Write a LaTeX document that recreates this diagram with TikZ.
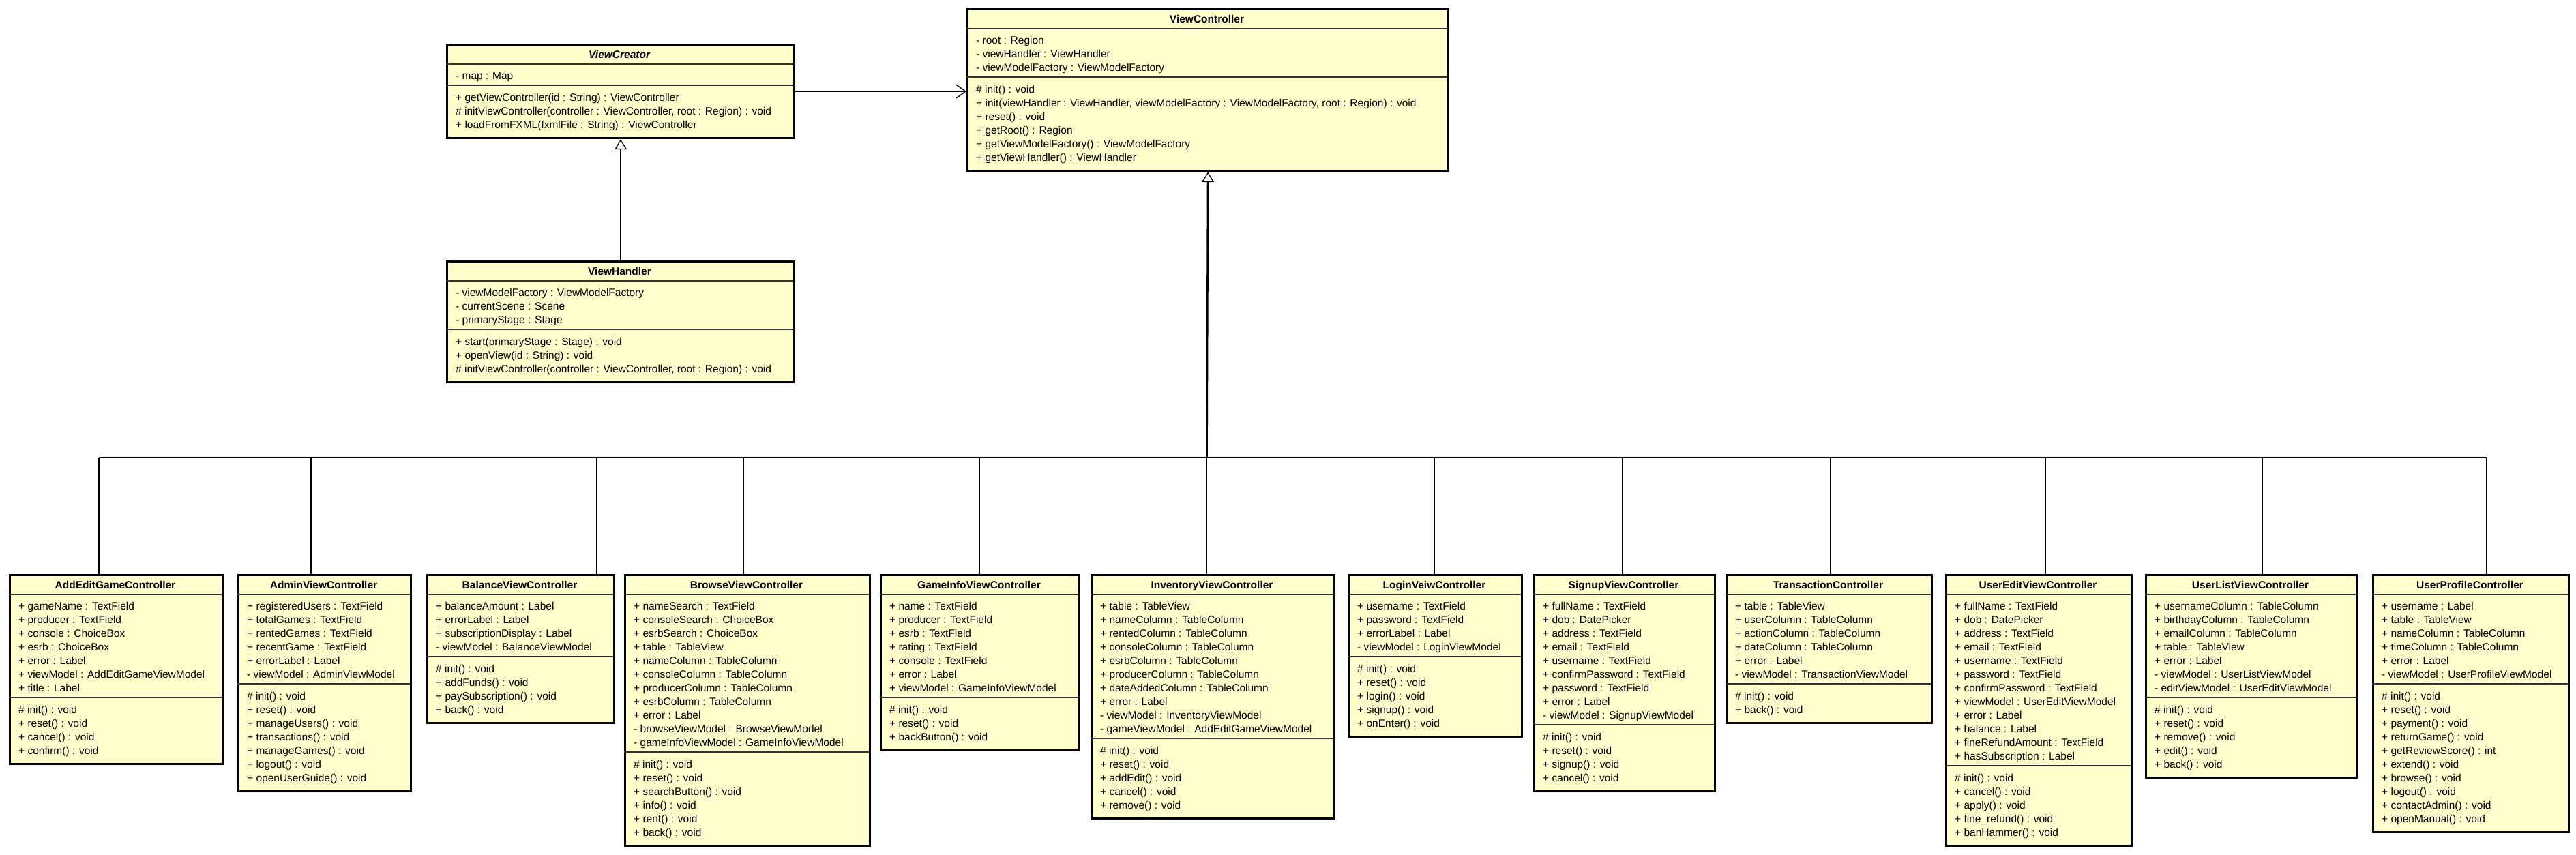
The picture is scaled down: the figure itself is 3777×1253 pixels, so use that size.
\documentclass[tikz,border=0pt]{standalone}
\usepackage{fontspec}
\setmainfont{Liberation Sans}
\usetikzlibrary{arrows.meta}
\definecolor{umlfill}{RGB}{255,255,206}
\tikzset{
  classbox/.style={draw=black, line width=3.2pt, fill=umlfill, rectangle, inner sep=0pt},
  sepline/.style={draw=black!80, line width=1.3pt},
  titletext/.style={font=\fontsize{15.5}{20}\selectfont\bfseries, inner sep=0pt},
  membertext/.style={font=\fontsize{15.5}{20}\selectfont, align=left, inner sep=0pt},
  conn/.style={draw=black, line width=1.3pt},
  gen/.style={conn, -{Triangle[open, length=15pt, width=18pt, line width=1.3pt]}},
  assoc/.style={conn, -{Straight Barb[length=14pt, width=20pt, line width=1.3pt]}},
}
% #1 name, #2 left x, #3 right x, #4 top y, #5 title, #6 n attrs, #7 attrs, #8 n ops, #9 ops
\newcommand{\umlcls}[9]{%
  \pgfmathsetmacro\clsA{#4+30}%
  \pgfmathsetmacro\clsB{#4+30+20*#6+11}%
  \pgfmathsetmacro\clsBot{\clsB+20*#8+16}%
  \pgfmathsetmacro\clsW{#3-#2}%
  \pgfmathsetmacro\clsH{\clsBot-#4}%
  \pgfmathsetmacro\clsX{(#2+#3)/2}%
  \node[classbox, minimum width=\clsW pt, minimum height=\clsH pt, anchor=north west] (#1) at (#2,#4) {};
  \draw[sepline] (#2,\clsA) -- (#3,\clsA);
  \draw[sepline] (#2,\clsB) -- (#3,\clsB);
  \node[titletext, anchor=base] (#1-title) at (\clsX,#4+21.5) {#5};
  \node[membertext, anchor=north west] (#1-attrs) at (#2+14,\clsA+8.5) {\strut #7};
  \node[membertext, anchor=north west] (#1-ops) at (#2+14,\clsB+9.5) {\strut #9};
}
\begin{document}
\begin{tikzpicture}[x=1pt,y=-1pt]
\fill[white] (0,0) rectangle (3777,1253);
\useasboundingbox (0,0) rectangle (3777,1253);

\umlcls{ViewCreator}{654}{1163}{64}{\textit{ViewCreator}}{1}{- map : Map}{3}{%
+ getViewController(id : String) : ViewController\\
\# initViewController(controller : ViewController, root : Region) : void\\
+ loadFromFXML(fxmlFile : String) : ViewController}

\umlcls{ViewHandler}{654}{1163}{382}{ViewHandler}{3}{%
- viewModelFactory : ViewModelFactory\\
- currentScene : Scene\\
- primaryStage : Stage}{3}{%
+ start(primaryStage : Stage) : void\\
+ openView(id : String) : void\\
\# initViewController(controller : ViewController, root : Region) : void}

\umlcls{ViewController}{1417}{2122}{12}{ViewController}{3}{%
- root : Region\\
- viewHandler : ViewHandler\\
- viewModelFactory : ViewModelFactory}{6}{%
\# init() : void\\
+ init(viewHandler : ViewHandler, viewModelFactory : ViewModelFactory, root : Region) : void\\
+ reset() : void\\
+ getRoot() : Region\\
+ getViewModelFactory() : ViewModelFactory\\
+ getViewHandler() : ViewHandler}

\umlcls{AddEdit}{13}{325}{842}{AddEditGameController}{7}{%
+ gameName : TextField\\
+ producer : TextField\\
+ console : ChoiceBox\\
+ esrb : ChoiceBox\\
+ error : Label\\
+ viewModel : AddEditGameViewModel\\
+ title : Label}{4}{%
\# init() : void\\
+ reset() : void\\
+ cancel() : void\\
+ confirm() : void}

\umlcls{Admin}{348}{601}{842}{AdminViewController}{6}{%
+ registeredUsers : TextField\\
+ totalGames : TextField\\
+ rentedGames : TextField\\
+ recentGame : TextField\\
+ errorLabel : Label\\
- viewModel : AdminViewModel}{7}{%
\# init() : void\\
+ reset() : void\\
+ manageUsers() : void\\
+ transactions() : void\\
+ manageGames() : void\\
+ logout() : void\\
+ openUserGuide() : void}

\umlcls{Balance}{625}{899}{842}{BalanceViewController}{4}{%
+ balanceAmount : Label\\
+ errorLabel : Label\\
+ subscriptionDisplay : Label\\
- viewModel : BalanceViewModel}{4}{%
\# init() : void\\
+ addFunds() : void\\
+ paySubscription() : void\\
+ back() : void}

\umlcls{Browse}{915}{1274}{842}{BrowseViewController}{11}{%
+ nameSearch : TextField\\
+ consoleSearch : ChoiceBox\\
+ esrbSearch : ChoiceBox\\
+ table : TableView\\
+ nameColumn : TableColumn\\
+ consoleColumn : TableColumn\\
+ producerColumn : TableColumn\\
+ esrbColumn : TableColumn\\
+ error : Label\\
- browseViewModel : BrowseViewModel\\
- gameInfoViewModel : GameInfoViewModel}{6}{%
\# init() : void\\
+ reset() : void\\
+ searchButton() : void\\
+ info() : void\\
+ rent() : void\\
+ back() : void}

\umlcls{GameInfo}{1290}{1581}{842}{GameInfoViewController}{7}{%
+ name : TextField\\
+ producer : TextField\\
+ esrb : TextField\\
+ rating : TextField\\
+ console : TextField\\
+ error : Label\\
+ viewModel : GameInfoViewModel}{3}{%
\# init() : void\\
+ reset() : void\\
+ backButton() : void}

\umlcls{Inventory}{1599}{1955}{842}{InventoryViewController}{10}{%
+ table : TableView\\
+ nameColumn : TableColumn\\
+ rentedColumn : TableColumn\\
+ consoleColumn : TableColumn\\
+ esrbColumn : TableColumn\\
+ producerColumn : TableColumn\\
+ dateAddedColumn : TableColumn\\
+ error : Label\\
- viewModel : InventoryViewModel\\
- gameViewModel : AddEditGameViewModel}{5}{%
\# init() : void\\
+ reset() : void\\
+ addEdit() : void\\
+ cancel() : void\\
+ remove() : void}

\umlcls{Login}{1976}{2230}{842}{LoginVeiwController}{4}{%
+ username : TextField\\
+ password : TextField\\
+ errorLabel : Label\\
- viewModel : LoginViewModel}{5}{%
\# init() : void\\
+ reset() : void\\
+ login() : void\\
+ signup() : void\\
+ onEnter() : void}

\umlcls{Signup}{2248}{2513}{842}{SignupViewController}{9}{%
+ fullName : TextField\\
+ dob : DatePicker\\
+ address : TextField\\
+ email : TextField\\
+ username : TextField\\
+ confirmPassword : TextField\\
+ password : TextField\\
+ error : Label\\
- viewModel : SignupViewModel}{4}{%
\# init() : void\\
+ reset() : void\\
+ signup() : void\\
+ cancel() : void}

\umlcls{Transaction}{2530}{2831}{842}{TransactionController}{6}{%
+ table : TableView\\
+ userColumn : TableColumn\\
+ actionColumn : TableColumn\\
+ dateColumn : TableColumn\\
+ error : Label\\
- viewModel : TransactionViewModel}{2}{%
\# init() : void\\
+ back() : void}

\umlcls{UserEdit}{2852}{3124}{842}{UserEditViewController}{12}{%
+ fullName : TextField\\
+ dob : DatePicker\\
+ address : TextField\\
+ email : TextField\\
+ username : TextField\\
+ password : TextField\\
+ confirmPassword : TextField\\
+ viewModel : UserEditViewModel\\
+ error : Label\\
+ balance : Label\\
+ fineRefundAmount : TextField\\
+ hasSubscription : Label}{5}{%
\# init() : void\\
+ cancel() : void\\
+ apply() : void\\
+ fine\_refund() : void\\
+ banHammer() : void}

\umlcls{UserList}{3145}{3454}{842}{UserListViewController}{7}{%
+ usernameColumn : TableColumn\\
+ birthdayColumn : TableColumn\\
+ emailColumn : TableColumn\\
+ table : TableView\\
+ error : Label\\
- viewModel : UserListViewModel\\
- editViewModel : UserEditViewModel}{5}{%
\# init() : void\\
+ reset() : void\\
+ remove() : void\\
+ edit() : void\\
+ back() : void}

\umlcls{UserProfile}{3478}{3765}{842}{UserProfileController}{6}{%
+ username : Label\\
+ table : TableView\\
+ nameColumn : TableColumn\\
+ timeColumn : TableColumn\\
+ error : Label\\
- viewModel : UserProfileViewModel}{10}{%
\# init() : void\\
+ reset() : void\\
+ payment() : void\\
+ returnGame() : void\\
+ getReviewScore() : int\\
+ extend() : void\\
+ browse() : void\\
+ logout() : void\\
+ contactAdmin() : void\\
+ openManual() : void}

% association ViewCreator -> ViewController
\draw[assoc] (ViewCreator.east) -- (ViewCreator.east -| ViewController.west);
% generalization ViewHandler -> ViewCreator
\draw[gen] (ViewHandler.north) -- (ViewCreator.south);

% generalizations of the controllers
\foreach \n/\x in {AddEdit/145, Admin/456, Balance/875, Browse/1090, GameInfo/1436, Inventory/1769.5, Login/2103, Signup/2379, Transaction/2684, UserEdit/2999, UserList/3317, UserProfile/3646} {
  \coordinate (bus-\n) at (\x,671);
  \draw[conn] (bus-\n) -- (bus-\n |- \n.north);
}
\draw[conn] (bus-AddEdit) -- (bus-UserProfile);
\draw[gen, line width=2.6pt] (bus-Inventory) -- (ViewController.south);
\end{tikzpicture}
\end{document}
